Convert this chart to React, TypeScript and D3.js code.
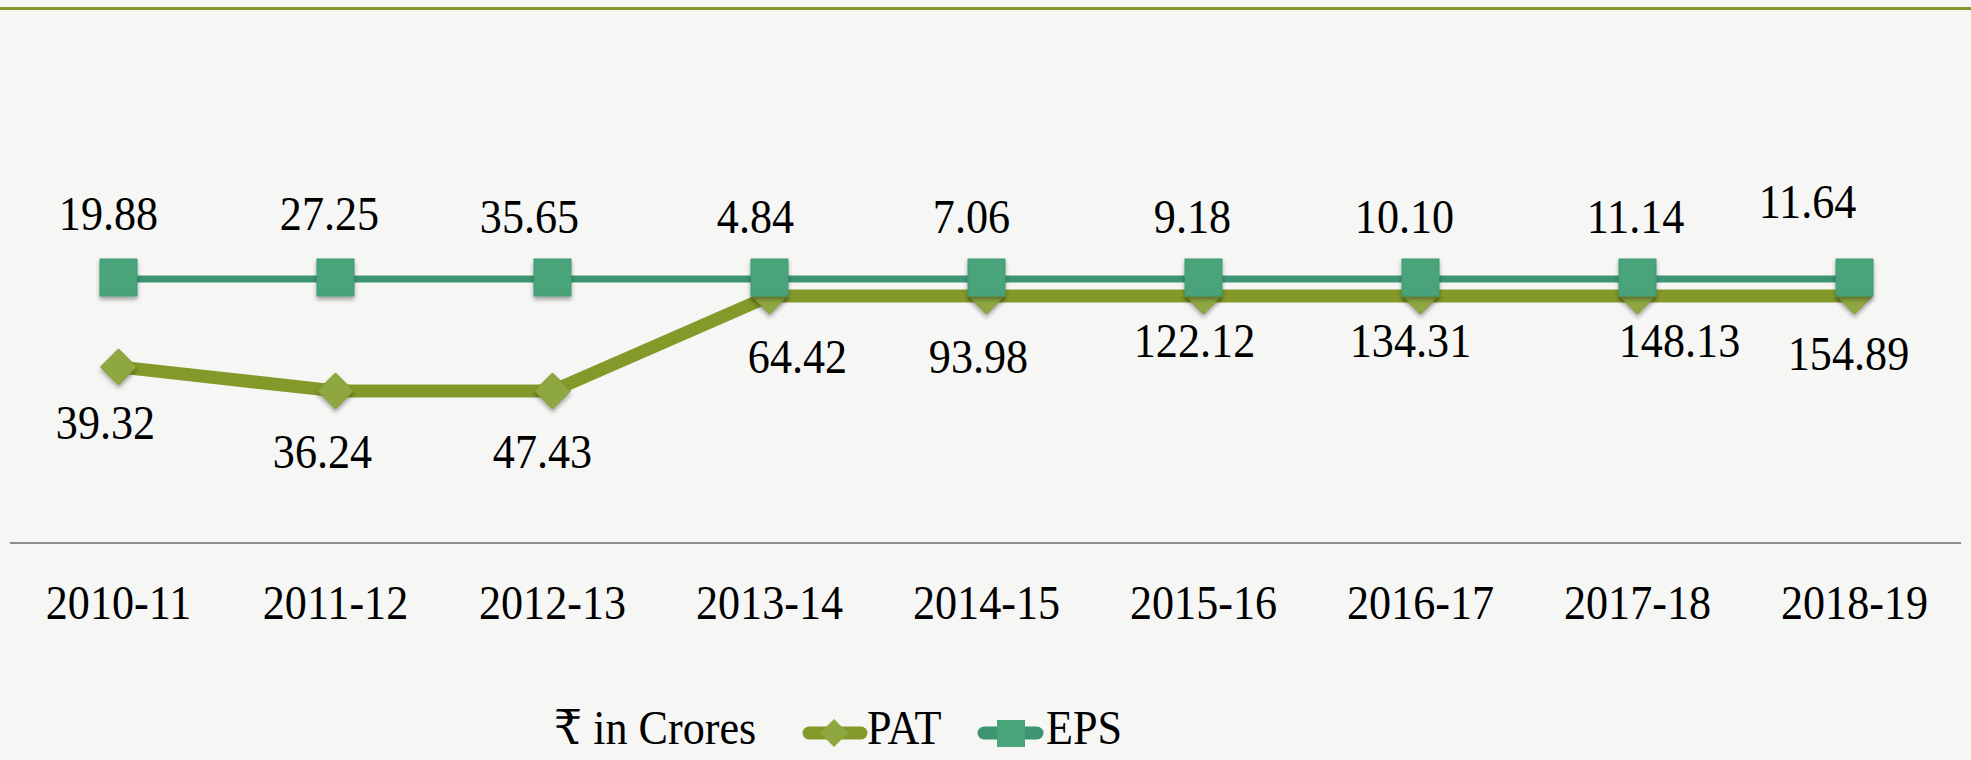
import React from "react";
import * as d3 from "d3";

// ---------- data ----------
const categories = ["2010-11", "2011-12", "2012-13", "2013-14", "2014-15", "2015-16", "2016-17", "2017-18", "2018-19"];
// data label values as printed on the chart
const patLabels = [39.32, 36.24, 47.43, 64.42, 93.98, 122.12, 134.31, 148.13, 154.89];
const epsLabels = [19.88, 27.25, 35.65, 4.84, 7.06, 9.18, 10.1, 11.14, 11.64];
// plotted positions on the chart's hidden value axis (0–100)
const patPlotted = [58.7, 50.7, 50.7, 82.3, 82.3, 82.3, 82.3, 82.3, 82.3];
const epsPlotted = [88, 88, 88, 88, 88, 88, 88, 88, 88];
const seriesNames = ["PAT", "EPS"];
const unitLabel = "₹ in Crores";

// ---------- layout (label nudges, like manually moved labels) ----------
const epsLabelDx = [-10, -6, -23, -14, -15, -11, -16, -2, -47];
const epsLabelDy = [-49, -49, -46, -46, -46, -46, -46, -46, -61];
const patLabelDx = [-13, -13, -10, 28, -8, -9, -10, 42, -6];
const patLabelDy = [72, 77, 77, 77, 77, 61, 61, 61, 74];

const W = 1971;
const H = 760;
const FONT = "'Liberation Serif', 'DejaVu Serif', serif";
const FS = 48;
const SX = 0.92;
const PAT_COLOR = "#839a2a";
const PAT_FILL = "#8ea73f";
const EPS_COLOR = "#3d9572";
const EPS_FILL = "#4aa47b";

function T({ x, y, anchor = "middle", children }: { x: number; y: number; anchor?: string; children: React.ReactNode }) {
  return (
    <g transform={`translate(${x},${y}) scale(${SX},1)`}>
      <text x={0} y={0} textAnchor={anchor} fontFamily={FONT} fontSize={FS} fill="#000">
        {children}
      </text>
    </g>
  );
}

export default function App() {
  const x = d3.scaleBand<string>().domain(categories).range([10, 1963]).padding(0);
  const cx = (c: string) => (x(c) as number) + x.bandwidth() / 2;
  const y = d3.scaleLinear().domain([0, 100]).range([543, 243]);

  const line = d3
    .line<number>()
    .x((_, i) => cx(categories[i]))
    .y((v) => y(v));

  const fmt = d3.format(".2f");

  return (
    <svg width={W} height={H} style={{ position: "absolute", left: 0, top: 0, display: "block" }}>
      <defs>
        <filter id="sh" x="-50%" y="-50%" width="200%" height="200%">
          <feDropShadow dx="0" dy="3" stdDeviation="2" floodColor="#000" floodOpacity="0.35" />
        </filter>
      </defs>
      <rect x={0} y={0} width={W} height={H} fill="#f6f6f4" />
      <line x1={0} x2={W} y1={8.5} y2={8.5} stroke="#82992a" strokeWidth={3} />

      {/* category axis */}
      <line x1={10} x2={1961} y1={y(0)} y2={y(0)} stroke="#8c8c8c" strokeWidth={2} />
      {categories.map((c) => (
        <T key={c} x={cx(c)} y={619}>
          {c}
        </T>
      ))}

      {/* PAT series */}
      <path d={line(patPlotted) || ""} fill="none" stroke={PAT_COLOR} strokeWidth={13} strokeLinejoin="round" />
      {patPlotted.map((v, i) => {
        const px = cx(categories[i]);
        const py = y(v);
        const r = 18;
        return (
          <path
            key={"pm" + i}
            d={`M${px},${py - r}L${px + r},${py}L${px},${py + r}L${px - r},${py}Z`}
            fill={PAT_FILL}
            stroke="#7f9628"
            strokeWidth={1}
            filter="url(#sh)"
          />
        );
      })}

      {/* EPS series */}
      <path d={line(epsPlotted) || ""} fill="none" stroke={EPS_COLOR} strokeWidth={7} />
      {epsPlotted.map((v, i) => {
        const px = cx(categories[i]);
        const py = y(v);
        const s = 37;
        return (
          <rect
            key={"em" + i}
            x={px - s / 2}
            y={py - s / 2 - 1.5}
            width={s}
            height={s}
            fill={EPS_FILL}
            stroke="#3f9a70"
            strokeWidth={1}
            filter="url(#sh)"
          />
        );
      })}

      {/* data labels */}
      {epsLabels.map((v, i) => (
        <T key={"el" + i} x={cx(categories[i]) + epsLabelDx[i]} y={y(epsPlotted[i]) + epsLabelDy[i]}>
          {fmt(v)}
        </T>
      ))}
      {patLabels.map((v, i) => (
        <T key={"pl" + i} x={cx(categories[i]) + patLabelDx[i]} y={y(patPlotted[i]) + patLabelDy[i]}>
          {fmt(v)}
        </T>
      ))}

      {/* legend */}
      <T x={554} y={744} anchor="start">{unitLabel}</T>
      <line x1={809} x2={861} y1={733} y2={733} stroke={PAT_COLOR} strokeWidth={13} strokeLinecap="round" />
      <path d="M834,719L848,733L834,747L820,733Z" fill={PAT_FILL} />
      <T x={867} y={744} anchor="start">{seriesNames[0]}</T>
      <line x1={984} x2={1037} y1={733} y2={733} stroke={EPS_COLOR} strokeWidth={13} strokeLinecap="round" />
      <rect x={997} y={720} width={28} height={27} fill={EPS_FILL} />
      <T x={1046} y={744} anchor="start">{seriesNames[1]}</T>
    </svg>
  );
}
